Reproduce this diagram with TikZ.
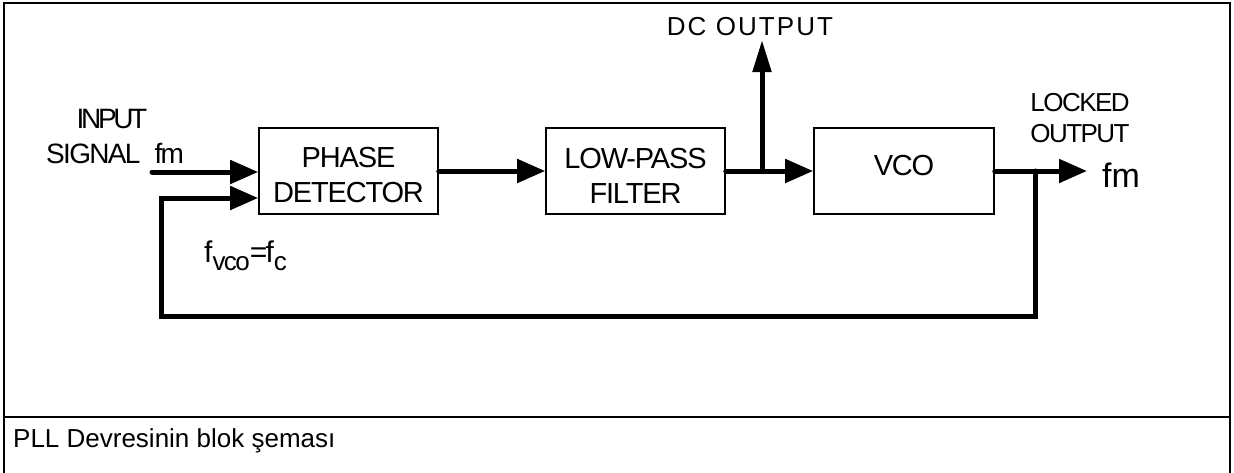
\documentclass[tikz,border=0pt]{standalone}
\usepackage{fontspec}
\setmainfont{Liberation Sans}
\usetikzlibrary{arrows.meta}
\begin{document}
\begin{tikzpicture}[x=1pt,y=-1pt,
  blk/.style={draw, line width=1.6pt, inner sep=0pt, align=center,
    font=\fontsize{29}{35}\selectfont\addfontfeature{LetterSpace=-4}},
  lbl/.style={inner sep=0pt, font=\fontsize{26}{31}\selectfont\addfontfeature{LetterSpace=-6}},
  wire/.style={line width=5pt, line cap=round, line join=miter},
  arr/.style={wire, -{Triangle[length=28pt,width=23pt]}},
  uparr/.style={wire, -{Triangle[length=32pt,width=18pt]}}]
\useasboundingbox (0,0) rectangle (1234,472);
\clip (0,0) rectangle (1234,472);
% frame
\draw[line width=2.2pt] (4,478) -- (4,3) -- (1230,3) -- (1230,478);
\draw[line width=2.2pt] (4,417) -- (1230,417);
% blocks
\node[blk, minimum width=179pt, minimum height=86pt] (pd) at (348.5,171) {\rule{0pt}{29pt}PHASE\\DETECTOR};
\node[blk, minimum width=179pt, minimum height=86pt] (lpf) at (635.5,171) {\rule{0pt}{29pt}LOW-PASS\\FILTER};
\node[blk, minimum width=180pt, minimum height=86pt] (vco) at (904,171) {VCO\rule[-12pt]{0pt}{12pt}};
% coordinates
\coordinate (in) at (152,172);
\coordinate (dcj) at (762,171);
\coordinate (dct) at (762,40);
\coordinate (fbj) at (1035,171);
\coordinate (outt) at (1087,171);
\coordinate (fb1) at (1035,316);
\coordinate (fb2) at (161,316);
\coordinate (fb3) at (161,198);
% connectors
\draw[arr] (in) -- (in -| pd.west);
\draw[arr] (pd.east) -- (lpf.west);
\draw[arr] (lpf.east) -- (vco.west);
\draw[uparr] (dcj) -- (dct);
\draw[arr] (vco.east) -- (outt);
\draw[arr] (fbj) -- (fb1) -- (fb2) -- (fb3) -- (fb3 -| pd.west);
% labels
\node[lbl, anchor=base] (dcl) at (750,35) {\addfontfeature{LetterSpace=8}DC OUTPUT};
\node[lbl, align=center] (lockl) at (1080,118) {LOCKED\\OUTPUT};
\node[lbl, anchor=base, font=\fontsize{28}{31}\selectfont\addfontfeature{LetterSpace=-12}] (inl) at (112,128) {INPUT};
\node[lbl, anchor=base west, font=\fontsize{28}{31}\selectfont\addfontfeature{LetterSpace=-6}] (sigl) at (46,163) {SIGNAL\hspace{14pt}fm};
\node[inner sep=0pt, anchor=base west, font=\fontsize{34}{38}\selectfont] (fml) at (1102,187) {fm};
\node[inner sep=0pt, anchor=base west, font=\fontsize{30}{34}\selectfont\addfontfeature{LetterSpace=-6}] (fvco) at (204,262)
  {f\raisebox{-8pt}{\fontsize{26}{30}\selectfont\addfontfeature{LetterSpace=-6}vco}=f\raisebox{-8pt}{\fontsize{26}{30}\selectfont c}};
\node[inner sep=0pt, anchor=base west, font=\fontsize{26}{30}\selectfont] (cap) at (13,447) {PLL Devresinin blok şeması};
\end{tikzpicture}
\end{document}
